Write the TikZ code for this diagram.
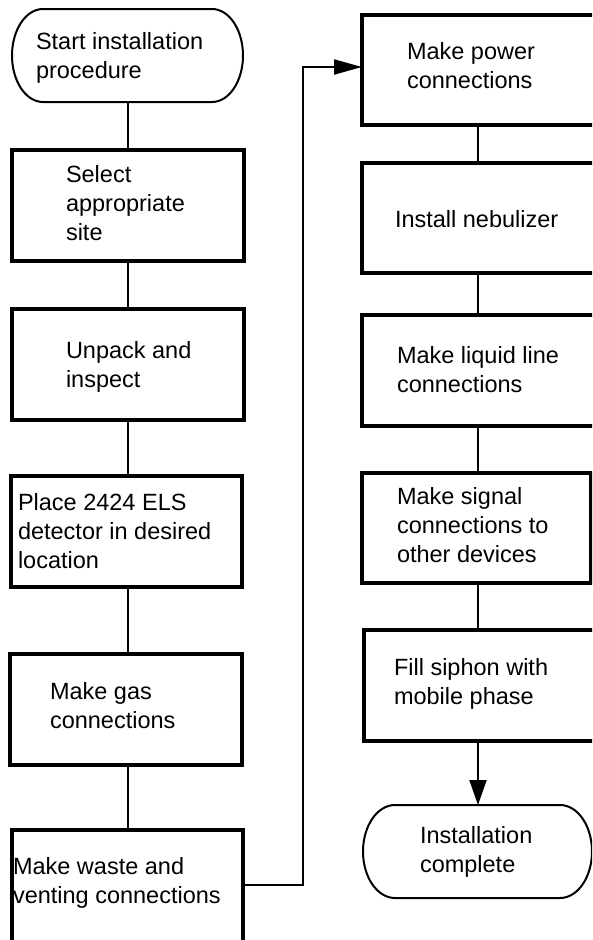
\documentclass[tikz,border=0pt]{standalone}
\usepackage{fontspec}
\setmainfont{Liberation Sans}
\usetikzlibrary{arrows.meta}
\newcommand{\twol}[2]{\vtop{\hbox{#1}\hbox{#2}}}
\newcommand{\threel}[3]{\vtop{\hbox{#1}\hbox{#2}\hbox{#3}}}
\begin{document}
\begin{tikzpicture}[x=1pt,y=-1pt,
  box/.style={draw,line width=3.2pt,rectangle,inner sep=0pt,outer sep=0pt},
  tbox/.style={draw=none,rectangle,inner sep=0pt,outer sep=0pt},
  termline/.style={line width=2pt},
  conn/.style={line width=2pt},
  txt/.style={inner sep=0pt,outer sep=0pt,anchor=base west,font=\fontsize{23.5}{29}\selectfont}
]
\useasboundingbox (0,0) rectangle (592,940);
\clip (0,0) rectangle (592,940);
% left column
\node[tbox,minimum width=231pt,minimum height=93pt] (start) at (127.5,55.5) {};
\draw[termline] ([xshift=31pt]start.north west) -- ([xshift=-31pt]start.north east)
  arc[start angle=90,end angle=-90,x radius=31pt,y radius=46.5pt]
  -- ([xshift=31pt]start.south west)
  arc[start angle=270,end angle=90,x radius=31pt,y radius=46.5pt] -- cycle;
\node[box,minimum width=232pt,minimum height=111pt] (b2) at (128,205.5) {};
\node[box,minimum width=232pt,minimum height=111pt] (b3) at (128,364.5) {};
\node[box,minimum width=231pt,minimum height=111pt] (b4) at (126.5,531.5) {};
\node[box,minimum width=232pt,minimum height=111pt] (b5) at (126,709.5) {};
\node[box,minimum width=231pt,minimum height=130pt] (b6) at (127.5,895) {};
% right column
\node[box,minimum width=240pt,minimum height=110pt] (p1) at (482,70) {};
\node[box,minimum width=240pt,minimum height=110pt] (p2) at (482,218) {};
\node[box,minimum width=240pt,minimum height=111pt] (p3) at (482,370.5) {};
\node[box,minimum width=229pt,minimum height=110pt] (p4) at (476.5,528) {};
\node[box,minimum width=238pt,minimum height=111pt] (p5) at (483,685.5) {};
\node[tbox,minimum width=229pt,minimum height=93pt] (fin) at (477.5,851.5) {};
\draw[termline] ([xshift=32pt]fin.north west) -- ([xshift=-32pt]fin.north east)
  arc[start angle=90,end angle=-90,x radius=32pt,y radius=46.5pt]
  -- ([xshift=32pt]fin.south west)
  arc[start angle=270,end angle=90,x radius=32pt,y radius=46.5pt] -- cycle;
% texts
\node[txt] (t1) at (36,49) {\twol{Start installation}{procedure}};
\node[txt] (t2) at (66,182) {\threel{Select}{appropriate}{site}};
\node[txt] (t3) at (66,358) {\twol{Unpack and}{inspect}};
\node[txt] (t4) at (18,510) {\threel{Place 2424 ELS}{detector in desired}{location}};
\node[txt] (t5) at (50,699) {\twol{Make gas}{connections}};
\node[txt] (t6) at (13,874) {\twol{Make waste and}{venting connections}};
\node[txt] (t7) at (407,59) {\twol{Make power}{connections}};
\node[txt] (t8) at (395,227) {Install nebulizer};
\node[txt] (t9) at (397,363) {\twol{Make liquid line}{connections}};
\node[txt] (t10) at (397,504) {\threel{Make signal}{connections to}{other devices}};
\node[txt] (t11) at (394,675) {\twol{Fill siphon with}{mobile phase}};
\node[txt] (t12) at (420,843) {\twol{Installation}{complete}};
% connectors
\coordinate (lc) at (128,0);
\coordinate (rc) at (478,0);
\draw[conn] (start.south -| lc) -- (b2.north -| lc);
\draw[conn] (b2.south -| lc) -- (b3.north -| lc);
\draw[conn] (b3.south -| lc) -- (b4.north -| lc);
\draw[conn] (b4.south -| lc) -- (b5.north -| lc);
\draw[conn] (b5.south -| lc) -- (b6.north -| lc);
\draw[conn] (p1.south -| rc) -- (p2.north -| rc);
\draw[conn] (p2.south -| rc) -- (p3.north -| rc);
\draw[conn] (p3.south -| rc) -- (p4.north -| rc);
\draw[conn] (p4.south -| rc) -- (p5.north -| rc);
\draw[conn,-{Triangle[length=25pt,width=17pt]}] (p5.south -| rc) -- (fin.north -| rc);
\coordinate (ly) at (0,885);
\coordinate (ay) at (0,67);
\coordinate (lx) at (303,0);
\draw[conn,-{Triangle[length=28pt,width=15pt]}] (b6.east |- ly) -- (lx |- ly) -- (lx |- ay) -- (p1.west |- ay);
\end{tikzpicture}
\end{document}
